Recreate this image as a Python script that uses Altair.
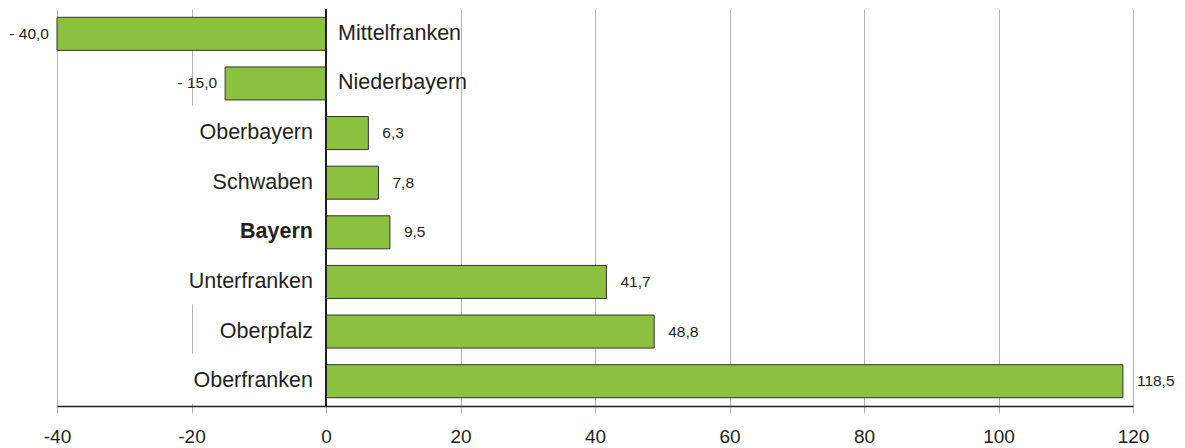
import altair as alt
import pandas as pd

regions = ["Mittelfranken", "Niederbayern", "Oberbayern", "Schwaben", "Bayern",
           "Unterfranken", "Oberpfalz", "Oberfranken"]
values = [-40.0, -15.0, 6.3, 7.8, 9.5, 41.7, 48.8, 118.5]
bold_rows = ["Bayern"]
# rows whose label box hides the -20 gridline in the original
masked_rows = ["Oberbayern", "Schwaben", "Bayern", "Unterfranken", "Oberfranken"]
x_ticks = [-40, -20, 0, 20, 40, 60, 80, 100, 120]


def fmt(v):
    s = f"{abs(v):.1f}".replace(".", ",")
    return ("- " + s) if v < 0 else s


df = pd.DataFrame({
    "region": regions,
    "value": values,
    "vlabel": [fmt(v) for v in values],
    "bold": [r in bold_rows for r in regions],
    "neg": [v < 0 for v in values],
    "mask": [r in masked_rows for r in regions],
})

FONT = "Liberation Sans"
TXT = "#231f20"
CAT_SIZE = 21.5
VAL_SIZE = 15.5

yenc = alt.Y("region:N", sort=regions, axis=None,
             scale=alt.Scale(paddingInner=0.335, paddingOuter=0.1675))
xscale = alt.Scale(domain=[-40, 120], nice=False, zero=False)

base = alt.Chart(df)

masks = base.transform_filter("datum.mask").mark_bar(
    color="white", height={"band": 1.52}, yOffset=-2.5
).encode(
    y=yenc,
    x=alt.datum(-21, scale=xscale,
                axis=alt.Axis(values=x_ticks, grid=True, gridColor="#b3b3b3",
                              gridWidth=1, domainColor="#231f20", domainWidth=1.5,
                              tickColor="#b3b3b3", tickSize=7, tickWidth=1,
                              labelFontSize=19, labelFont=FONT, labelColor=TXT,
                              labelPadding=14, title=None, labelFlush=False,
                              labelExpr="datum.value < 0 ? '-' + abs(datum.value) : '' + datum.value")),
    x2=alt.datum(-1),
)

bars = base.mark_bar(color="#8cc13f", stroke="#333333", strokeWidth=1).encode(
    y=yenc,
    x=alt.X("value:Q", scale=xscale),
    x2=alt.datum(0),
)

zero = base.mark_rule(color="#231f20", strokeWidth=1.5).encode(
    x=alt.datum(0, scale=xscale)
)

cat_pos = base.transform_filter("!datum.neg && !datum.bold").mark_text(
    align="right", baseline="middle", dx=-13, fontSize=CAT_SIZE, font=FONT, color=TXT
).encode(
    y=yenc,
    x=alt.datum(0),
    text="region:N",
)

cat_bold = base.transform_filter("datum.bold").mark_text(
    align="right", baseline="middle", dx=-13, fontSize=CAT_SIZE, font=FONT, color=TXT,
    fontWeight="bold"
).encode(
    y=yenc,
    x=alt.datum(0),
    text="region:N",
)

cat_neg = base.transform_filter("datum.neg").mark_text(
    align="left", baseline="middle", dx=12, fontSize=CAT_SIZE, font=FONT, color=TXT
).encode(
    y=yenc,
    x=alt.datum(0),
    text="region:N",
)

val_pos = base.transform_filter("!datum.neg").mark_text(
    align="left", baseline="middle", dx=14, fontSize=VAL_SIZE, font=FONT, color=TXT
).encode(
    y=yenc,
    x=alt.X("value:Q", scale=xscale),
    text="vlabel:N",
)

val_neg = base.transform_filter("datum.neg").mark_text(
    align="right", baseline="middle", dx=-8, fontSize=VAL_SIZE, font=FONT, color=TXT
).encode(
    y=yenc,
    x=alt.X("value:Q", scale=xscale),
    text="vlabel:N",
)

chart = alt.layer(masks, bars, zero, cat_pos, cat_bold, cat_neg, val_pos, val_neg).properties(
    width=1076,
    height=397,
    autosize=alt.AutoSizeParams(type="none"),
    padding={"left": 49, "top": 1, "right": 44, "bottom": 40},
).configure_view(stroke=None)

chart.save("out.html", embed_options={"renderer": "svg", "actions": False})
